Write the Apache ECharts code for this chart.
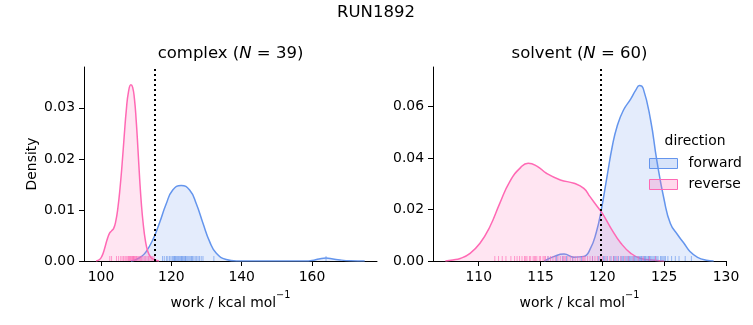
<!DOCTYPE html>
<html>
<head>
<meta charset="utf-8">
<script src="https://cdn.jsdelivr.net/npm/echarts@6/dist/echarts.min.js"></script>
<style>html,body{margin:0;padding:0;background:#fff}#c{width:753px;height:325px}</style>
</head>
<body>
<div id="c"></div>
<script>
// ---- data ----
const complexForwardKde = [[108.5,0],[110,0.0003],[111.5,0.0009],[112.8,0.0018],[114.7,0.0041],[116.6,0.0074],[118.5,0.0111],[120.4,0.0139],[122.8,0.0148],[125.2,0.0139],[127.1,0.0112],[129.0,0.0074],[130.9,0.0038],[132.8,0.0015],[135.6,0.0003],[138.5,0],[158,0],[160,0.0001],[162,0.0004],[164,0.0006],[166,0.0004],[168,0.0002],[171,0.00005],[175,0]];
const complexReverseKde = [[98.6,0],[99.6,0.0003],[100.3,0.0010],[101.0,0.0024],[101.7,0.0041],[102.4,0.0054],[103.0,0.0059],[103.6,0.0064],[104.2,0.0078],[104.8,0.0104],[105.4,0.0142],[106.0,0.0190],[106.6,0.0245],[107.2,0.0296],[107.8,0.0331],[108.5,0.0345],[109.0,0.0340],[109.5,0.0318],[110.0,0.0276],[110.5,0.0220],[111.0,0.0160],[111.5,0.0110],[112.0,0.0073],[112.6,0.0041],[113.3,0.0019],[114.1,0.0008],[115.1,0.0003],[116.5,0]];
const solventForwardKde = [[115.3,0],[116.05,0.0017],[116.9,0.0027],[117.7,0.0015],[118.5,0.0018],[119.0,0.0045],[119.5,0.0110],[119.9,0.0195],[120.4,0.0335],[120.8,0.0445],[121.2,0.0525],[121.7,0.0586],[122.3,0.0630],[122.7,0.0664],[123.0,0.0682],[123.3,0.0671],[123.9,0.0548],[124.4,0.0392],[125.0,0.0237],[125.5,0.0146],[126.1,0.0101],[126.6,0.0069],[127.1,0.0036],[127.7,0.0014],[128.4,0.0003],[129,0]];
const solventReverseKde = [[107.3,0],[107.9,0.0004],[108.5,0.0010],[109.3,0.0030],[110.1,0.0069],[110.9,0.0133],[111.7,0.0224],[112.5,0.0308],[113.4,0.0364],[114.0,0.0380],[114.7,0.0369],[115.5,0.0340],[116.6,0.0315],[117.7,0.0302],[118.5,0.0282],[119.0,0.0250],[119.6,0.0211],[120.0,0.0185],[120.7,0.0127],[121.5,0.0069],[122.3,0.0030],[123.1,0.0010],[124.2,0.0003],[125,0]];

const complexForwardRug = [117.5,118.0,118.6,119.0,119.5,119.9,120.3,120.6,120.9,121.0,121.2,121.5,121.8,122.0,122.3,122.6,122.9,123.0,123.2,123.5,123.8,124.0,124.1,124.4,124.7,125.0,125.3,125.6,125.8,126.0,126.4,126.8,127.2,127.6,128.0,128.5,129.0,132.1,164.0];
const complexReverseRug = [102.5,103.0,104.4,105.0,105.6,106.0,106.4,106.8,107.1,107.4,107.7,107.9,108.0,108.2,108.4,108.6,108.8,109.0,109.1,109.2,109.3,109.5,109.7,109.9,110.1,110.3,110.6,110.9,111.2,111.5,111.9,112.3,112.7,113.1,113.5,113.9,114.3,114.7,115.1];
const solventForwardRug = [115.6,116.3,116.8,117.1,117.6,118.3,119.2,119.7,120.1,120.2,120.4,120.7,120.9,121.0,121.1,121.3,121.5,121.6,121.7,121.9,122.0,122.1,122.2,122.3,122.4,122.5,122.6,122.7,122.8,122.9,123.0,123.1,123.15,123.2,123.3,123.4,123.45,123.5,123.6,123.7,123.75,123.8,123.9,124.0,124.1,124.2,124.3,124.4,124.5,124.7,124.8,124.9,125.0,125.1,125.3,125.6,125.9,126.2,126.7,127.2];
const solventReverseRug = [111.3,111.6,111.9,112.2,112.6,112.9,113.1,113.3,113.5,113.7,113.8,113.9,114.1,114.2,114.4,114.5,114.6,114.7,114.9,115.0,115.2,115.3,115.4,115.6,115.8,116.0,116.2,116.4,116.6,116.8,116.9,117.0,117.2,117.4,117.6,117.8,118.0,118.2,118.4,118.5,118.6,118.8,119.0,119.2,119.4,119.6,119.8,120.0,120.3,120.6,120.9,121.2,121.5,121.8,122.1,122.5,122.9,123.3,123.8,124.3];

const complexCutoff = [115.2];
const solventCutoff = [119.9];
const complexXTicks = [100,120,140,160];
const solventXTicks = [110,115,120,125,130];
const complexYTicks = [0,0.01,0.02,0.03];
const solventYTicks = [0,0.02,0.04,0.06];
const directions = ['forward','reverse'];

// ---- styling ----
const FONT = 'DejaVu Sans';
const FS = 13.9;
const BLUE = '#6495ED', PINK = '#FF69B4';
const BLUE_FILL = 'rgba(100,149,237,0.25)', PINK_FILL = 'rgba(255,105,180,0.25)';

function xAxis(idx, min, max, ticks) {
  return {
    type: 'value', gridIndex: idx, min: min, max: max,
    axisLine: {show: true, onZero: false, lineStyle: {color: '#000', width: 1}},
    axisTick: {show: true, length: 5, inside: false, customValues: ticks, lineStyle: {color: '#000', width: 1}},
    axisLabel: {customValues: ticks, color: '#000', fontFamily: FONT, fontSize: FS, margin: 9},
    splitLine: {show: false}
  };
}
function yAxis(idx, max, ticks, withName) {
  const a = {
    type: 'value', gridIndex: idx, min: 0, max: max,
    axisLine: {show: true, lineStyle: {color: '#000', width: 1}},
    axisTick: {show: true, length: 5, customValues: ticks, lineStyle: {color: '#000', width: 1}},
    axisLabel: {customValues: ticks, color: '#000', fontFamily: FONT, fontSize: FS, margin: 9,
      formatter: v => v.toFixed(2)},
    splitLine: {show: false}
  };
  if (withName) {
    a.name = 'Density'; a.nameLocation = 'middle'; a.nameGap = 45;
    a.nameTextStyle = {color: '#000', fontFamily: FONT, fontSize: FS};
  }
  return a;
}
function kde(name, data, idx, line, fill, z) {
  return {type: 'line', name: name, data: data, xAxisIndex: idx, yAxisIndex: idx,
    showSymbol: false, smooth: 0.5, z: z,
    lineStyle: {color: line, width: 1.5}, itemStyle: {color: line},
    areaStyle: {color: fill, origin: 'start'}, silent: true, animation: false};
}
function rug(name, vals, idx, color) {
  return {type: 'scatter', name: name, xAxisIndex: idx, yAxisIndex: idx,
    data: vals.map(v => [v, 0]), symbol: 'rect', symbolSize: [1, 5], symbolOffset: [0, -2.5],
    itemStyle: {color: color}, silent: true, animation: false, z: 4};
}
function cutoff(vals, idx) {
  return {type: 'line', data: [], xAxisIndex: idx, yAxisIndex: idx, silent: true, animation: false,
    markLine: {symbol: 'none', silent: true, animation: false, label: {show: false},
      lineStyle: {color: '#000', type: [2, 3], width: 2},
      data: vals.map(v => ({xAxis: v}))}, z: 6};
}
function mathTitle(label, n, cx) {
  return {type: 'text', x: cx, y: 54, style: {
    text: '{a|' + label + ' (}{i|N}{a| = ' + n + ')}',
    align: 'center', verticalAlign: 'middle',
    rich: {a: {fontFamily: FONT, fontSize: 16.5, fill: '#000'},
           i: {fontFamily: FONT, fontSize: 16.5, fontStyle: 'italic', fill: '#000'}}}};
}
function xName(cx) {
  return {type: 'text', x: cx, y: 300, style: {
    text: '{a|work / kcal mol}{s|\u22121}',
    align: 'center', verticalAlign: 'middle',
    rich: {a: {fontFamily: FONT, fontSize: FS, fill: '#000', lineHeight: 20, verticalAlign: 'bottom'},
           s: {fontFamily: FONT, fontSize: 9.7, fill: '#000', lineHeight: 11, verticalAlign: 'top'}}}};
}

const option = {
  backgroundColor: '#fff',
  animation: false,
  grid: [
    {left: 84, top: 67, width: 293, height: 194},
    {left: 433, top: 67, width: 293, height: 194}
  ],
  xAxis: [xAxis(0, 95.16, 178.5, complexXTicks), xAxis(1, 106.3, 130, solventXTicks)],
  yAxis: [yAxis(0, 0.038, complexYTicks, true), yAxis(1, 0.0754, solventYTicks, false)],
  legend: {
    orient: 'vertical', left: 649, top: 155, itemWidth: 28, itemHeight: 10, itemGap: 4, padding: 0,
    icon: 'rect', selectedMode: false,
    textStyle: {color: '#000', fontFamily: FONT, fontSize: FS, lineHeight: 17, padding: [0, 0, 0, 6]},
    data: [
      {name: directions[0], itemStyle: {color: BLUE_FILL, borderColor: BLUE, borderWidth: 1}},
      {name: directions[1], itemStyle: {color: PINK_FILL, borderColor: PINK, borderWidth: 1}}
    ]
  },
  graphic: [
    {type: 'text', x: 376, y: 13, style: {text: 'RUN1892', align: 'center', verticalAlign: 'middle',
      fontFamily: FONT, fontSize: 16.5, fill: '#000'}},
    mathTitle('complex', 39, 230.5),
    mathTitle('solvent', 60, 579.5),
    xName(230.5),
    xName(579.5),
    {type: 'text', x: 695, y: 141, style: {text: 'direction', align: 'center', verticalAlign: 'middle',
      fontFamily: FONT, fontSize: FS, fill: '#000'}}
  ],
  series: [
    kde(directions[0], complexForwardKde, 0, BLUE, BLUE_FILL, 2),
    kde(directions[1], complexReverseKde, 0, PINK, PINK_FILL, 3),
    kde(directions[0], solventForwardKde, 1, BLUE, BLUE_FILL, 2),
    kde(directions[1], solventReverseKde, 1, PINK, PINK_FILL, 3),
    rug('forward rug', complexForwardRug, 0, 'rgba(100,149,237,0.8)'),
    rug('reverse rug', complexReverseRug, 0, 'rgba(255,105,180,0.8)'),
    rug('forward rug', solventForwardRug, 1, 'rgba(100,149,237,0.8)'),
    rug('reverse rug', solventReverseRug, 1, 'rgba(255,105,180,0.8)'),
    cutoff(complexCutoff, 0),
    cutoff(solventCutoff, 1)
  ]
};
echarts.init(document.getElementById('c'), null, {renderer: 'canvas'}).setOption(option);
</script>
</body>
</html>
